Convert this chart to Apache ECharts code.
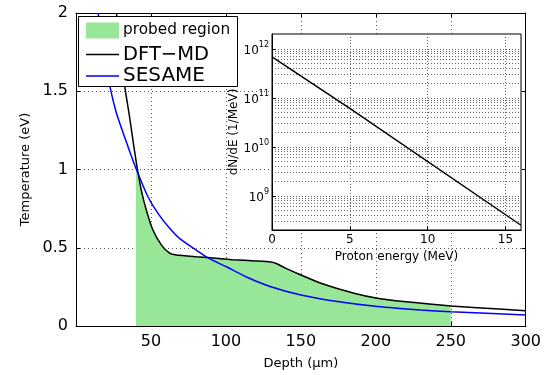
<!DOCTYPE html>
<html><head><meta charset="utf-8">
<script src="https://cdn.jsdelivr.net/npm/echarts@6/dist/echarts.min.js"></script>
<style>html,body{margin:0;padding:0;background:#fff}#c{width:544px;height:375px}</style>
</head><body><div id="c"></div>
<script>
// Main chart: Depth (μm) vs Temperature (eV)
var dftDepth = [27, 32.5, 35.5, 38.4, 40, 41, 43.5, 46.9, 51.3, 56.9, 62.4, 66.9, 80.1, 95.4, 104.5, 120, 130, 134, 139, 150, 163.3, 185.5, 201, 218.6, 250, 285, 300];
var dftTemp  = [2.0, 1.533, 1.35, 1.16, 1.06, 1.0, 0.87, 0.741, 0.613, 0.518, 0.465, 0.454, 0.443, 0.432, 0.424, 0.416, 0.409, 0.398, 0.373, 0.326, 0.273, 0.209, 0.177, 0.156, 0.128, 0.107, 0.098];
var sesDepth = [14.8, 18.5, 22.6, 27, 34.7, 40.3, 48, 54.7, 63.5, 69, 80.1, 88, 100, 113.3, 130, 150, 174.4, 201, 229.8, 250, 300];
var sesTemp  = [2.0, 1.75, 1.533, 1.36, 1.146, 1.0, 0.826, 0.72, 0.613, 0.56, 0.485, 0.435, 0.38, 0.315, 0.251, 0.198, 0.156, 0.124, 0.102, 0.091, 0.070];
var probedRange = [40, 250];
// Inset: proton spectrum
var protonEnergy = [0, 5, 16];
var protonDNdE = [6.8e11, 6.1e10, 2.5e8];
var insetMinorDecades = [8, 9, 10, 11];
var seriesNames = ['probed region', 'DFT\u2212MD', 'SESAME'];

function zip(a, b) { return a.map(function (v, i) { return [v, b[i]]; }); }
var dft = zip(dftDepth, dftTemp);
var ses = zip(sesDepth, sesTemp);
var probed = dft.filter(function (p) { return p[0] >= probedRange[0] && p[0] <= probedRange[1]; });
var proton = zip(protonEnergy, protonDNdE);

var minorLines = [];
insetMinorDecades.forEach(function (d) {
  for (var k = 1; k <= 9; k++) {
    var v = k * Math.pow(10, d);
    if (v > 2e8 && v < 2e12) minorLines.push({ yAxis: v });
  }
});
minorLines.push({ yAxis: 1e12 });

var GREEN = '#98e698';
var SMOOTH = 0.2;
var gridLine = { show: true, lineStyle: { color: '#555', width: 1, type: [1, 3] } };
var fontF = 'DejaVu Sans';
var LINE_ICON = 'path://M0,0H33V1.6H0Z';

function oneLegend(name, icon, color, fontSize, centerY) {
  return {
    orient: 'vertical', left: 86, top: centerY - 8, padding: 0,
    itemWidth: 33, itemHeight: 16, itemGap: 0, symbolKeepAspect: true,
    itemStyle: { borderWidth: 0 },
    data: [{ name: name, icon: icon, itemStyle: { color: color, borderWidth: 0 } }],
    textStyle: { color: '#000', fontFamily: fontF, fontSize: fontSize, lineHeight: 16, padding: [0, 0, 0, -1] },
    z: 10
  };
}

var chart = echarts.init(document.getElementById('c'), null, { renderer: 'canvas' });
chart.setOption({
  animation: false,
  backgroundColor: '#fff',
  textStyle: { fontFamily: fontF, color: '#000' },
  grid: [
    { left: 76, right: 16, top: 13, bottom: 49, containLabel: false },
    { left: 272, right: 23, top: 34, bottom: 145, containLabel: false, show: true, backgroundColor: '#fff', borderColor: '#000', borderWidth: 1, z: 5 }
  ],
  graphic: [
    { type: 'rect', left: 78, top: 16, shape: { width: 159, height: 70 },
      style: { fill: '#fff', stroke: '#000', lineWidth: 1 }, z: 9, silent: true }
  ],
  xAxis: [
    { type: 'value', gridIndex: 0, min: 0, max: 300, interval: 50,
      name: 'Depth (\u03bcm)', nameLocation: 'middle', nameGap: 31,
      nameTextStyle: { fontSize: 13, fontFamily: fontF, color: '#000' },
      axisLine: { show: true, onZero: false, lineStyle: { color: '#000', width: 1 } },
      axisTick: { show: true, inside: true, length: 4, lineStyle: { color: '#000' } },
      axisLabel: { fontSize: 16, fontFamily: fontF, color: '#000', margin: 8,
        formatter: function (v) { return v === 0 ? '' : String(v); } },
      splitLine: gridLine },
    { type: 'value', gridIndex: 0, position: 'top', min: 0, max: 300, interval: 50,
      axisLine: { show: true, onZero: false, lineStyle: { color: '#000', width: 1 } },
      axisTick: { show: true, inside: true, length: 4, lineStyle: { color: '#000' } },
      axisLabel: { show: false }, splitLine: { show: false } },
    { type: 'value', gridIndex: 1, min: 0, max: 16, interval: 5,
      name: 'Proton energy (MeV)', nameLocation: 'middle', nameGap: 16,
      nameTextStyle: { fontSize: 12, fontFamily: fontF, color: '#000' },
      axisLine: { show: true, onZero: false, lineStyle: { color: '#000', width: 1 } },
      axisTick: { show: true, inside: true, length: 4, lineStyle: { color: '#000' } },
      axisLabel: { fontSize: 12, fontFamily: fontF, color: '#000', margin: 4, showMaxLabel: false,
        formatter: function (v) { return v % 5 === 0 ? String(v) : ''; } },
      splitLine: { show: true, lineStyle: { color: '#666', width: 1, type: [1, 2] } }, z: 6 }
  ],
  yAxis: [
    { type: 'value', gridIndex: 0, min: 0, max: 2, interval: 0.5,
      name: 'Temperature (eV)', nameLocation: 'middle', nameGap: 39,
      nameTextStyle: { fontSize: 13, fontFamily: fontF, color: '#000' },
      axisLine: { show: true, onZero: false, lineStyle: { color: '#000', width: 1 } },
      axisTick: { show: true, inside: true, length: 4, lineStyle: { color: '#000' } },
      axisLabel: { fontSize: 16, fontFamily: fontF, color: '#000', margin: 8 },
      splitLine: gridLine },
    { type: 'value', gridIndex: 0, position: 'right', min: 0, max: 2, interval: 0.5,
      axisLine: { show: true, onZero: false, lineStyle: { color: '#000', width: 1 } },
      axisTick: { show: true, inside: true, length: 4, lineStyle: { color: '#000' } },
      axisLabel: { show: false }, splitLine: { show: false } },
    { type: 'log', gridIndex: 1, min: 2e8, max: 2e12, logBase: 10,
      name: 'dN/dE (1/MeV)', nameLocation: 'middle', nameGap: 29,
      nameTextStyle: { fontSize: 12, fontFamily: fontF, color: '#000' },
      axisLine: { show: true, onZero: false, lineStyle: { color: '#000', width: 1 } },
      axisTick: { show: true, inside: true, length: 4, lineStyle: { color: '#000' } },
      axisLabel: { margin: 3, fontFamily: fontF, color: '#000',
        showMinLabel: false, showMaxLabel: false,
        formatter: function (v) {
          var e = Math.round(Math.log10(v));
          if (Math.abs(v - Math.pow(10, e)) / v > 1e-6) return '';
          return '{b|10}{s|' + e + '}';
        },
        rich: { b: { fontSize: 12, fontFamily: fontF, color: '#000', lineHeight: 16, verticalAlign: 'bottom' },
                s: { fontSize: 8, fontFamily: fontF, color: '#000', lineHeight: 16, verticalAlign: 'top' } } },
      splitLine: { show: false }, z: 6 }
  ],
  legend: [
    oneLegend(seriesNames[0], 'rect', GREEN, 15.3, 30.5),
    oneLegend(seriesNames[1], LINE_ICON, '#000', 19.5, 52.5),
    oneLegend(seriesNames[2], LINE_ICON, '#0000ff', 20, 74)
  ],
  series: [
    { name: seriesNames[0], type: 'line', xAxisIndex: 0, yAxisIndex: 0, data: probed,
      showSymbol: false, symbol: 'none', smooth: SMOOTH, color: GREEN,
      lineStyle: { width: 0, color: GREEN }, itemStyle: { color: GREEN },
      areaStyle: { color: GREEN, opacity: 1 }, z: 1 },
    { name: seriesNames[1], type: 'line', xAxisIndex: 0, yAxisIndex: 0, data: dft,
      showSymbol: false, symbol: 'none', smooth: SMOOTH, color: '#000',
      lineStyle: { width: 1.5, color: '#000' }, z: 2 },
    { name: seriesNames[2], type: 'line', xAxisIndex: 0, yAxisIndex: 0, data: ses,
      showSymbol: false, symbol: 'none', smooth: SMOOTH, color: '#0000ff',
      lineStyle: { width: 1.5, color: '#0000ff' }, z: 3 },
    { name: 'spectrum', type: 'line', xAxisIndex: 2, yAxisIndex: 2, data: proton,
      showSymbol: false, symbol: 'none', color: '#000',
      lineStyle: { width: 1.5, color: '#000' }, z: 8,
      markLine: { silent: true, symbol: 'none', label: { show: false },
        lineStyle: { color: '#666', width: 1, type: [1, 2] }, data: minorLines, animation: false } }
  ]
});
</script></body></html>
